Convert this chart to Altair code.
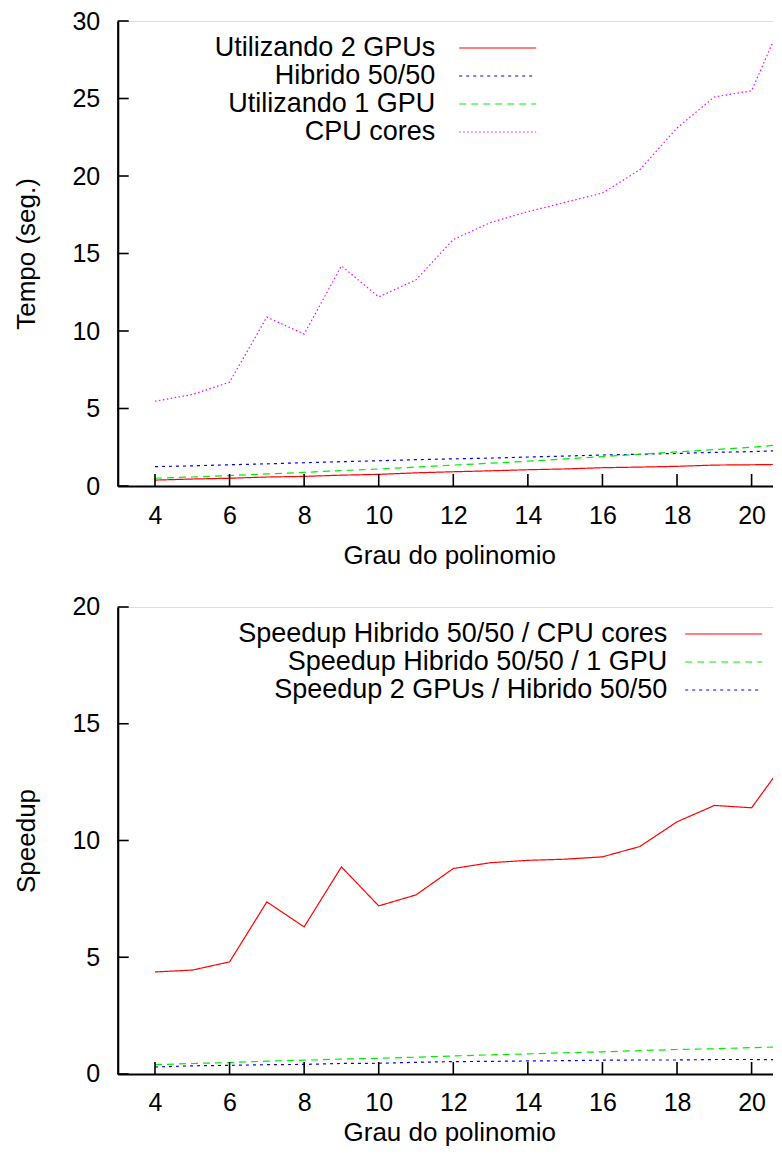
import altair as alt
import pandas as pd

FONT = "Liberation Sans"

# ---- data ----
grau = [4, 5, 6, 7, 8, 9, 10, 11, 12, 13, 14, 15, 16, 17, 18, 19, 20, 21]

t_2gpus = [0.38, 0.45, 0.50, 0.58, 0.62, 0.70, 0.75, 0.85, 0.92, 0.98, 1.05, 1.10, 1.18, 1.22, 1.27, 1.35, 1.37, 1.40]
t_hibrido = [1.25, 1.30, 1.37, 1.43, 1.50, 1.57, 1.63, 1.70, 1.75, 1.80, 1.87, 1.93, 2.00, 2.05, 2.10, 2.17, 2.22, 2.30]
t_1gpu = [0.50, 0.58, 0.67, 0.78, 0.88, 1.00, 1.10, 1.22, 1.35, 1.47, 1.60, 1.75, 1.90, 2.05, 2.20, 2.35, 2.50, 2.70]
t_cpu = [5.47, 5.9, 6.7, 10.9, 9.8, 14.2, 12.2, 13.3, 15.9, 17.0, 17.7, 18.3, 18.9, 20.4, 23.1, 25.1, 25.5, 31.0]

s_hib_cpu = [4.37, 4.45, 4.8, 7.37, 6.3, 8.87, 7.2, 7.67, 8.8, 9.05, 9.15, 9.2, 9.3, 9.74, 10.8, 11.5, 11.4, 13.6]
s_hib_1gpu = [0.40, 0.45, 0.49, 0.55, 0.59, 0.64, 0.67, 0.72, 0.77, 0.82, 0.86, 0.91, 0.95, 1.00, 1.05, 1.08, 1.13, 1.17]
s_2gpu_hib = [0.30, 0.35, 0.37, 0.40, 0.41, 0.45, 0.46, 0.50, 0.53, 0.54, 0.56, 0.57, 0.59, 0.60, 0.60, 0.62, 0.62, 0.61]

top_names = ["Utilizando 2 GPUs", "Hibrido 50/50", "Utilizando 1 GPU", "CPU cores"]
top_colors = ["#ff0000", "#0000ff", "#00ee00", "#ff00ff"]
top_dashes = [[1, 0], [3, 4], [7, 5], [1.5, 2.5]]

bot_names = ["Speedup Hibrido 50/50 / CPU cores", "Speedup Hibrido 50/50 / 1 GPU", "Speedup 2 GPUs / Hibrido 50/50"]
bot_colors = ["#ff0000", "#00ee00", "#0000ff"]
bot_dashes = [[1, 0], [7, 5], [3, 4]]

x_ticks = [4, 6, 8, 10, 12, 14, 16, 18, 20]
y_ticks_top = [0, 5, 10, 15, 20, 25, 30]
y_ticks_bot = [0, 5, 10, 15, 20]

x_domain = [3, 20.78]
y_domain_top = [0, 30]
y_domain_bot = [0, 20]

# ---- tables ----
rows = []
for name, vals in zip(top_names, [t_2gpus, t_hibrido, t_1gpu, t_cpu]):
    for g, v in zip(grau, vals):
        rows.append({"grau": g, "valor": v, "serie": name})
df_top = pd.DataFrame(rows)

rows = []
for name, vals in zip(bot_names, [s_hib_cpu, s_hib_1gpu, s_2gpu_hib]):
    for g, v in zip(grau, vals):
        rows.append({"grau": g, "valor": v, "serie": name})
df_bot = pd.DataFrame(rows)

W = 663
H1 = 465
H2 = 467

ROW = 27          # legend row height (symbol size side)
SYM_LEN = 77      # legend sample line length
K = SYM_LEN / ROW  # custom path half-length in symbol units (scale = ROW/2)
SYM_PATH = "M-%.4f,0H%.4f" % (K, K)


def panel(df, names, colors, dashes, y_domain, y_ticks, y_title, height,
          sym_start, leg_y, gap, title_pad):
    xs = alt.Scale(domain=x_domain, nice=False, zero=False)
    ys = alt.Scale(domain=y_domain, nice=False, zero=False)
    half = SYM_LEN / 2.0
    leg = alt.Legend(
        title=None, orient="none",
        legendX=sym_start + half - ROW / 2.0, legendY=leg_y, direction="vertical",
        symbolType=SYM_PATH, symbolSize=ROW * ROW, symbolStrokeWidth=1.2,
        labelAlign="right",
        labelOffset={"expr": str(-(half - ROW / 2.0) - gap - ROW)},
        labelFontSize=27, labelFont=FONT, labelColor="black", labelLimit=0,
        padding=0, rowPadding=0,
    )
    lines = alt.Chart(df).mark_line(strokeWidth=1.2, clip=True).encode(
        x=alt.X("grau:Q", scale=xs, axis=alt.Axis(
            values=x_ticks, ticks=False, grid=False, domainColor="black", domainWidth=2.2,
            labelPadding=17, labelFontSize=25, labelFont=FONT, labelColor="black",
            title="Grau do polinomio", titleFont=FONT, titleFontSize=26, titleFontWeight="normal",
            titleColor="black", titlePadding=title_pad, labelFlush=False)),
        y=alt.Y("valor:Q", scale=ys, axis=alt.Axis(
            values=y_ticks, ticks=False, grid=False, domainColor="black", domainWidth=2.2,
            labelPadding=18, labelFontSize=25, labelFont=FONT, labelColor="black",
            title=y_title, titleFont=FONT, titleFontSize=26, titleFontWeight="normal",
            titleColor="black", titlePadding=32, labelFlush=False)),
        color=alt.Color("serie:N", scale=alt.Scale(domain=names, range=colors), legend=leg),
        strokeDash=alt.StrokeDash("serie:N", scale=alt.Scale(domain=names, range=dashes), legend=leg),
    )
    yt = alt.Chart(pd.DataFrame({"valor": y_ticks})).mark_rule(color="black", strokeWidth=1.6).encode(
        y=alt.Y("valor:Q", scale=ys), x=alt.value(0), x2=alt.value(11))
    xt = alt.Chart(pd.DataFrame({"grau": x_ticks})).mark_rule(color="black", strokeWidth=1.6).encode(
        x=alt.X("grau:Q", scale=xs), y=alt.value(height), y2=alt.value(height - 12))
    return alt.layer(lines, yt, xt).properties(width=W, height=height)


top = panel(df_top, top_names, top_colors, top_dashes, y_domain_top, y_ticks_top,
            "Tempo (seg.)", H1, 340.5, 12.5, 25, 14)
bot = panel(df_bot, bot_names, bot_colors, bot_dashes, y_domain_bot, y_ticks_bot,
            "Speedup", H2, 566.5, 12.5, 19, 4)

chart = alt.vconcat(top, bot, spacing=121, bounds="flush").resolve_scale(
    color="independent", strokeDash="independent", x="independent", y="independent"
).resolve_legend(color="independent", strokeDash="independent").properties(
    padding={"expr": "{left: 4.7, top: 0, right: -8.5, bottom: 2}"}
).configure_view(stroke=None).configure(background="white")

chart.save("out.html", embed_options={"renderer": "svg", "actions": False})
